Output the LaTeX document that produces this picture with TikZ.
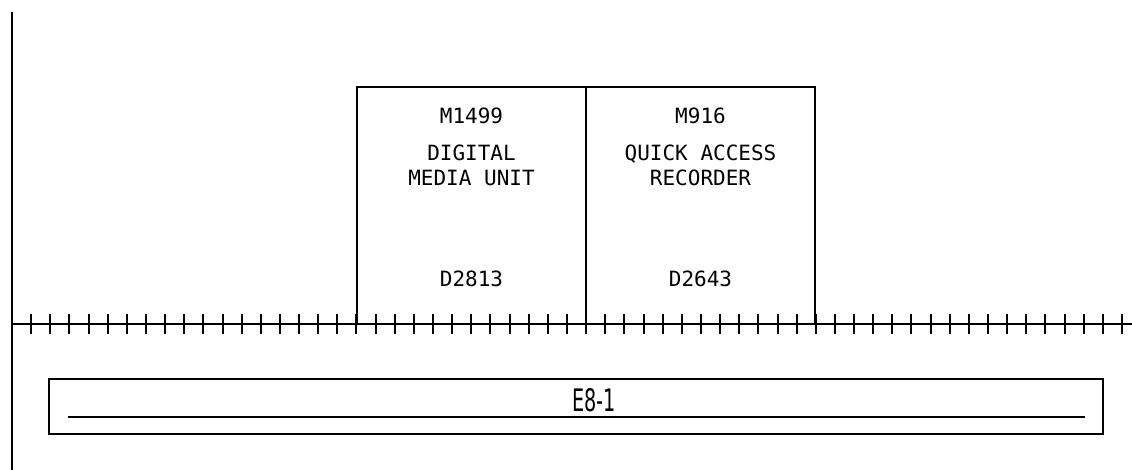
\documentclass[tikz,border=0pt]{standalone}
\usepackage{fontspec}
\newfontfamily\unitfont{DejaVu Sans Mono}
\newfontfamily\plugfont{DejaVu Sans}
\usetikzlibrary{positioning, calc}

\begin{document}
\begin{tikzpicture}[
        x=1pt, y=-1pt,
        unitbox/.style={rectangle, draw, line width=2pt, minimum width=229pt, minimum height=237pt, anchor=north west, inner sep=0pt, outer sep=0pt},
        unittext/.style={inner sep=0pt, align=center, font=\unitfont\fontsize{21}{25}\selectfont},
        plugbox/.style={rectangle, draw, line width=1.4pt, minimum width=1054pt, minimum height=55pt, anchor=north west, inner sep=0pt, outer sep=0pt},
        plugtext/.style={inner sep=0pt, xscale=0.62, font=\plugfont\fontsize{31}{31}\selectfont},
        wire/.style={line width=2pt},
        tick/.style={line width=2pt}
    ]
        \useasboundingbox (0,0) rectangle (1132,470);

        % ground line and bus
        \coordinate (gtop) at (12,12);
        \coordinate (gbot) at (12,470);
        \coordinate (busl) at (12,324);
        \coordinate (busr) at (1132,324);
        \draw[wire] (gtop) -- (gbot);
        \draw[wire] (busl) -- (busr);
        \foreach \k in {1,...,58}
            \draw[tick] ({round(12+19.138*\k)},314) -- ++(0,20);

        % units
        \node[unitbox] (dmu) at (357,87) {};
        \node[unitbox] (qar) at (dmu.north east) {};

        \node[unittext, below=21pt of dmu.north] (dmuref) {M1499};
        \node[unittext, below=20pt of dmuref] (dmuname) {DIGITAL\\MEDIA UNIT};
        \node[unittext, above=37pt of dmu.south] (dmuplug) {D2813};

        \node[unittext, below=21pt of qar.north] (qarref) {M916};
        \node[unittext, below=20pt of qarref] (qarname) {QUICK ACCESS\\RECORDER};
        \node[unittext, above=37pt of qar.south] (qarplug) {D2643};

        % equipment shelf
        \node[plugbox] (shelf) at (49,379) {};
        \node[plugtext, anchor=base] (shelfname) at (594,411) {E8-1};
        \draw[line width=2.5pt] ($(shelf.south west)+(19,-17)$) -- ($(shelf.south east)+(-18,-17)$);
    \end{tikzpicture}
\end{document}
